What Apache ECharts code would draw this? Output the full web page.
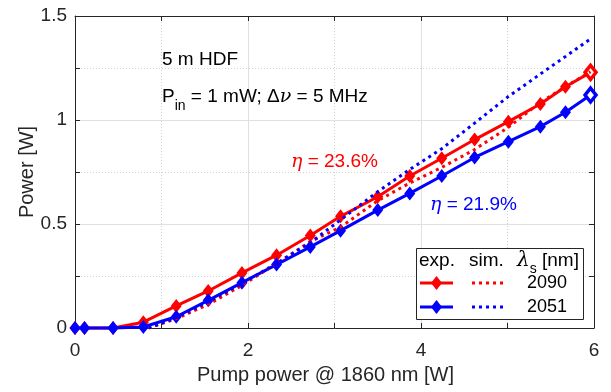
<!DOCTYPE html>
<html><head><meta charset="utf-8">
<script src="https://cdn.jsdelivr.net/npm/echarts@6/dist/echarts.min.js"></script>
<style>html,body{margin:0;padding:0;background:#fff}#c{width:611px;height:392px}</style>
</head><body><div id="c"></div>
<script>
// ---- data ----
const pumpPower = [0, 0.11, 0.44, 0.79, 1.17, 1.54, 1.93, 2.33, 2.72, 3.07, 3.50, 3.87, 4.24, 4.62, 5.01, 5.38, 5.67, 5.96];
const exp2090 = [0, 0, 0, 0.028, 0.106, 0.178, 0.265, 0.35, 0.445, 0.537, 0.631, 0.731, 0.816, 0.906, 0.992, 1.077, 1.16, 1.229];
const exp2051 = [0, 0, 0, 0.005, 0.054, 0.133, 0.218, 0.305, 0.39, 0.468, 0.567, 0.647, 0.731, 0.82, 0.896, 0.968, 1.037, 1.12];
const simPump = [0.85, 1.17, 1.54, 1.93, 2.33, 2.72, 3.07, 3.50, 3.87, 4.24, 4.62, 5.01, 5.38, 5.67, 5.96];
const sim2090 = [0, 0.045, 0.113, 0.205, 0.31, 0.415, 0.485, 0.612, 0.697, 0.772, 0.858, 0.965, 1.085, 1.16, 1.232];
const sim2051 = [0, 0.05, 0.125, 0.215, 0.31, 0.41, 0.52, 0.655, 0.762, 0.862, 0.985, 1.113, 1.221, 1.305, 1.39];
const wavelengths = ['2090', '2051'];
const etaLabels = ['23.6%', '21.9%'];

// ---- styling ----
const FONT = '"Liberation Sans", Arial, Helvetica, sans-serif';
const SERIF = '"DejaVu Serif", "Liberation Serif", serif';
const AX = '#262626';
const RED = '#ff0000', BLUE = '#0000ff';

function pairs(xs, ys) { return xs.map((x, i) => [x, ys[i]]); }
function expData(ys, color) {
  const d = pairs(pumpPower, ys);
  const last = d.length - 1;
  return d.map((p, i) => i === last ? { value: p, itemStyle: { color: '#ffffff', borderColor: color, borderWidth: 3.5 } } : p);
}

function axisCommon(extra) {
  return Object.assign({
    type: 'value',
    axisLine: { show: true, onZero: false, lineStyle: { color: AX, width: 1 } },
    axisTick: { show: true, inside: true, length: 5, lineStyle: { color: AX, width: 1 } },
    minorTick: { show: true, splitNumber: 2, length: 5, lineStyle: { color: AX, width: 1 } },
    axisLabel: { color: AX, fontSize: 19, fontFamily: FONT },
  }, extra);
}

const chart = echarts.init(document.getElementById('c'), null, { renderer: 'canvas' });

const diamond = (cx, cy, color) => ({
  type: 'polygon',
  shape: { points: [[cx, cy - 7], [cx + 5.5, cy], [cx, cy + 7], [cx - 5.5, cy]] },
  style: { fill: color }
});

const legendX = 416, legendY = 248;
const rowY = [283, 307];
const colors = [RED, BLUE];

const legendGraphics = [
  { type: 'rect', shape: { x: legendX + 0.5, y: legendY + 0.5, width: 167, height: 71 }, style: { fill: '#fff', stroke: AX, lineWidth: 1 }, z: 100 },
  { type: 'text', x: 419, y: 261, style: { text: 'exp.', font: '19px ' + FONT, fill: '#000', verticalAlign: 'middle' }, z: 101 },
  { type: 'text', x: 469, y: 261, style: { text: 'sim.', font: '19px ' + FONT, fill: '#000', verticalAlign: 'middle' }, z: 101 },
  { type: 'text', x: 517, y: 261, style: {
      text: '{l|λ}{s|s}{a| [nm]}', verticalAlign: 'middle',
      rich: {
        l: { fontFamily: SERIF, fontStyle: 'italic', fontSize: 20, lineHeight: 30, fill: '#000' },
        s: { fontFamily: FONT, fontSize: 14, lineHeight: 12, verticalAlign: 'bottom', fill: '#000' },
        a: { fontFamily: FONT, fontSize: 19, lineHeight: 30, fill: '#000' }
      } }, z: 101 }
];
rowY.forEach((y, i) => {
  legendGraphics.push({ type: 'line', shape: { x1: 420, y1: y, x2: 453, y2: y }, style: { stroke: colors[i], lineWidth: 3 }, z: 101 });
  legendGraphics.push(Object.assign(diamond(436.5, y, colors[i]), { z: 102 }));
  legendGraphics.push({ type: 'line', shape: { x1: 472, y1: y, x2: 503, y2: y }, style: { stroke: colors[i], lineWidth: 3, lineDash: [3, 4] }, z: 101 });
  legendGraphics.push({ type: 'text', x: 527, y: y, style: { text: wavelengths[i], font: '18px ' + FONT, fill: '#000', verticalAlign: 'middle' }, z: 101 });
});

const annotations = [
  { type: 'text', x: 162, y: 60, style: { text: '5 m HDF', font: '19px ' + FONT, fill: '#000', verticalAlign: 'middle' }, z: 50 },
  { type: 'text', x: 162, y: 97, style: {
      text: '{a|P}{s|in}{a| = 1 mW; Δ}{i|ν}{a| = 5 MHz}', verticalAlign: 'middle',
      rich: {
        a: { fontFamily: FONT, fontSize: 19, lineHeight: 32, fill: '#000' },
        s: { fontFamily: FONT, fontSize: 14, lineHeight: 14, verticalAlign: 'bottom', fill: '#000' },
        i: { fontFamily: SERIF, fontStyle: 'italic', fontSize: 19, lineHeight: 32, fill: '#000' }
      } }, z: 50 },
  { type: 'text', x: 291, y: 162, style: {
      text: '{i|η}{a| = ' + etaLabels[0] + '}', verticalAlign: 'middle', fill: RED,
      rich: {
        i: { fontFamily: SERIF, fontStyle: 'italic', fontSize: 19, fill: RED },
        a: { fontFamily: FONT, fontSize: 19, fill: RED }
      } }, z: 50 },
  { type: 'text', x: 430, y: 205, style: {
      text: '{i|η}{a| = ' + etaLabels[1] + '}', verticalAlign: 'middle', fill: BLUE,
      rich: {
        i: { fontFamily: SERIF, fontStyle: 'italic', fontSize: 19, fill: BLUE },
        a: { fontFamily: FONT, fontSize: 19, fill: BLUE }
      } }, z: 50 }
];

const option = {
  backgroundColor: '#fff',
  animation: false,
  grid: { left: 75, right: 17, top: 16, bottom: 64, containLabel: false },
  xAxis: [
    axisCommon({
      min: 0, max: 6, interval: 2, position: 'bottom',
      splitLine: { show: true, lineStyle: { color: '#e0e0e0', width: 1 } },
      minorSplitLine: { show: true, lineStyle: { color: '#d2d2d2', width: 1, type: [1, 2] } },
      axisLabel: { color: AX, fontSize: 19, fontFamily: FONT, margin: 13 },
      name: 'Pump power @ 1860 nm [W]', nameLocation: 'middle', nameGap: 37, nameMoveOverlap: false,
      nameTextStyle: { color: AX, fontSize: 20, fontFamily: FONT, padding: [0, 18, 0, 0] }
    }),
    axisCommon({
      min: 0, max: 6, interval: 2, position: 'top',
      splitLine: { show: false }, axisLabel: { show: false }
    })
  ],
  yAxis: [
    axisCommon({
      min: 0, max: 1.5, interval: 0.5, position: 'left',
      splitLine: { show: true, lineStyle: { color: '#e0e0e0', width: 1 } },
      minorSplitLine: { show: true, lineStyle: { color: '#d2d2d2', width: 1, type: [1, 2] } },
      axisLabel: { color: AX, fontSize: 19, fontFamily: FONT, margin: 8 },
      name: 'Power [W]', nameLocation: 'middle', nameGap: 38, nameMoveOverlap: false,
      nameTextStyle: { color: AX, fontSize: 20, fontFamily: FONT }
    }),
    axisCommon({
      min: 0, max: 1.5, interval: 0.5, position: 'right',
      splitLine: { show: false }, axisLabel: { show: false }
    })
  ],
  series: [
    { name: 'exp 2090', type: 'line', data: expData(exp2090, RED), clip: false, z: 3,
      lineStyle: { color: RED, width: 3 }, itemStyle: { color: RED },
      symbol: 'diamond', symbolSize: [11, 14], showSymbol: true },
    { name: 'exp 2051', type: 'line', data: expData(exp2051, BLUE), clip: false, z: 4,
      lineStyle: { color: BLUE, width: 3 }, itemStyle: { color: BLUE },
      symbol: 'diamond', symbolSize: [11, 14], showSymbol: true },
    { name: 'sim 2090', type: 'line', data: pairs(simPump, sim2090), z: 5,
      lineStyle: { color: RED, width: 3, type: [3, 4], cap: 'butt' }, symbol: 'none' },
    { name: 'sim 2051', type: 'line', data: pairs(simPump, sim2051), z: 6,
      lineStyle: { color: BLUE, width: 3, type: [3, 4], cap: 'butt' }, symbol: 'none' }
  ],
  graphic: annotations.concat(legendGraphics)
};
chart.setOption(option);
</script>
</body></html>
